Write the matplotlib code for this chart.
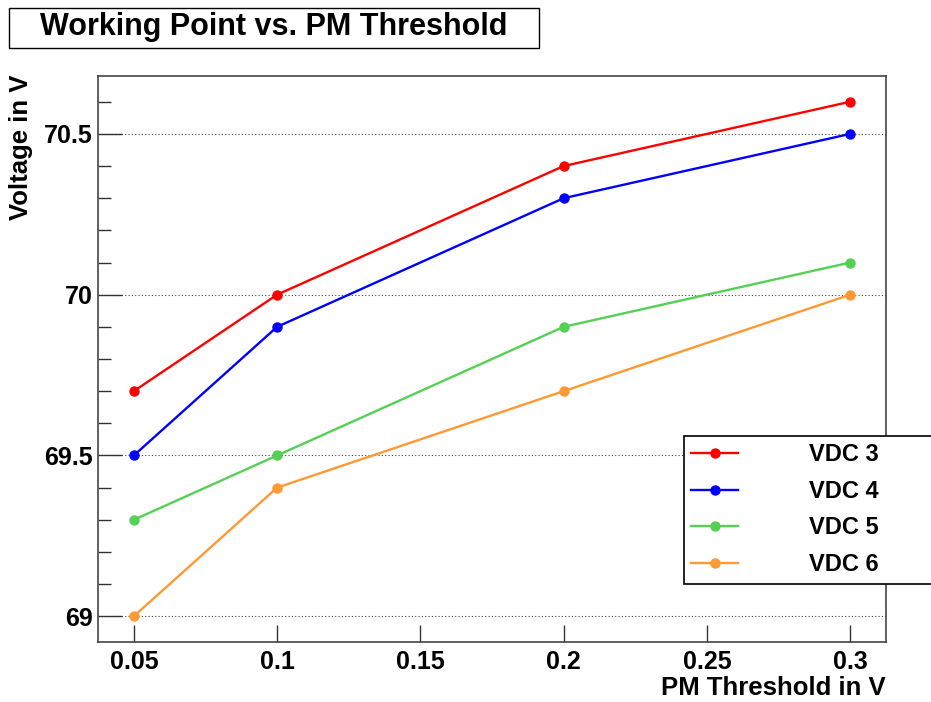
import matplotlib
matplotlib.use("Agg")
import matplotlib.pyplot as plt
from matplotlib.patches import Rectangle
from matplotlib.ticker import MultipleLocator, FixedLocator

plt.rcParams['font.family'] = ['Liberation Sans', 'DejaVu Sans']
plt.rcParams['font.weight'] = 'bold'

thresholds = [0.05, 0.1, 0.2, 0.3]
vdc3 = [69.7, 70.0, 70.4, 70.6]
vdc4 = [69.5, 69.9, 70.3, 70.5]
vdc5 = [69.3, 69.5, 69.9, 70.1]
vdc6 = [69.0, 69.4, 69.7, 70.0]
labels = ["VDC 3", "VDC 4", "VDC 5", "VDC 6"]
colors = ["#ff0000", "#0000ff", "#55d055", "#ff9933"]
xticks = [0.05, 0.1, 0.15, 0.2, 0.25, 0.3]
xticklabels = ["0.05", "0.1", "0.15", "0.2", "0.25", "0.3"]
yticks = [69, 69.5, 70, 70.5]
yticklabels = ["69", "69.5", "70", "70.5"]

W, H = 931, 702
fig = plt.figure(figsize=(W / 100, H / 100), dpi=100)
ax = fig.add_axes([98 / W, 1 - 642 / H, (886 - 98) / W, (642 - 76) / H])

handles = []
for series, lab, col in zip([vdc3, vdc4, vdc5, vdc6], labels, colors):
    h, = ax.plot(thresholds, series, color=col, lw=1.7, marker='o', ms=6.5,
                 mec=col, mfc=col, label=lab, zorder=3)
    handles.append(h)

ax.set_xlim(0.0375, 0.3125)
ax.set_ylim(68.92, 70.68)
ax.xaxis.set_major_locator(FixedLocator(xticks))
ax.set_xticklabels(xticklabels)
ax.yaxis.set_major_locator(FixedLocator(yticks))
ax.set_yticklabels(yticklabels)
ax.yaxis.set_minor_locator(MultipleLocator(0.1))
ax.tick_params(axis='both', which='both', direction='in', labelsize=18,
               color='#333333')
ax.tick_params(axis='y', which='major', length=17, width=1, pad=4)
ax.tick_params(axis='y', which='minor', length=9, width=1)
ax.tick_params(axis='x', which='major', length=12, width=1, pad=6)
ax.tick_params(top=False, right=False)
for lbl in ax.get_xticklabels() + ax.get_yticklabels():
    lbl.set_fontweight('bold')
ax.grid(axis='y', which='major', color='#444444', linestyle=(0, (1, 2)), lw=0.8)
ax.set_axisbelow(True)
for s in ax.spines.values():
    s.set_color('#444444')
    s.set_linewidth(1.2)

# axis labels
fig.text(886 / W, 1 - 688 / H, "PM Threshold in V", ha='right', va='center',
         fontsize=18.5, fontweight='bold')
fig.text(21 / W, 1 - 75 / H, "Voltage in V", ha='center', va='top',
         rotation=90, fontsize=18.5, fontweight='bold')

# title box
fig.patches.append(Rectangle((9 / W, 1 - 48 / H), 530 / W, 40 / H,
                             transform=fig.transFigure, fill=True,
                             facecolor='white', edgecolor='black', lw=1))
fig.text(274 / W, 1 - 27 / H, "Working Point vs. PM Threshold", ha='center',
         va='center', fontsize=22, fontweight='bold')

# legend box
fig.patches.append(Rectangle((684 / W, 1 - 584 / H), 260 / W, 148 / H,
                             transform=fig.transFigure, fill=True,
                             facecolor='white', edgecolor='black', lw=1.2,
                             zorder=5))
leg = fig.legend(handles=handles, loc='upper left',
                 bbox_to_anchor=(684 / W, 1 - 436 / H),
                 frameon=False, fontsize=17, handlelength=2.0,
                 handletextpad=3.0, labelspacing=0.58, borderpad=0.3,
                 borderaxespad=0)
for t in leg.get_texts():
    t.set_fontweight('bold')
leg.set_zorder(6)

fig.savefig("out.png", dpi=100)
